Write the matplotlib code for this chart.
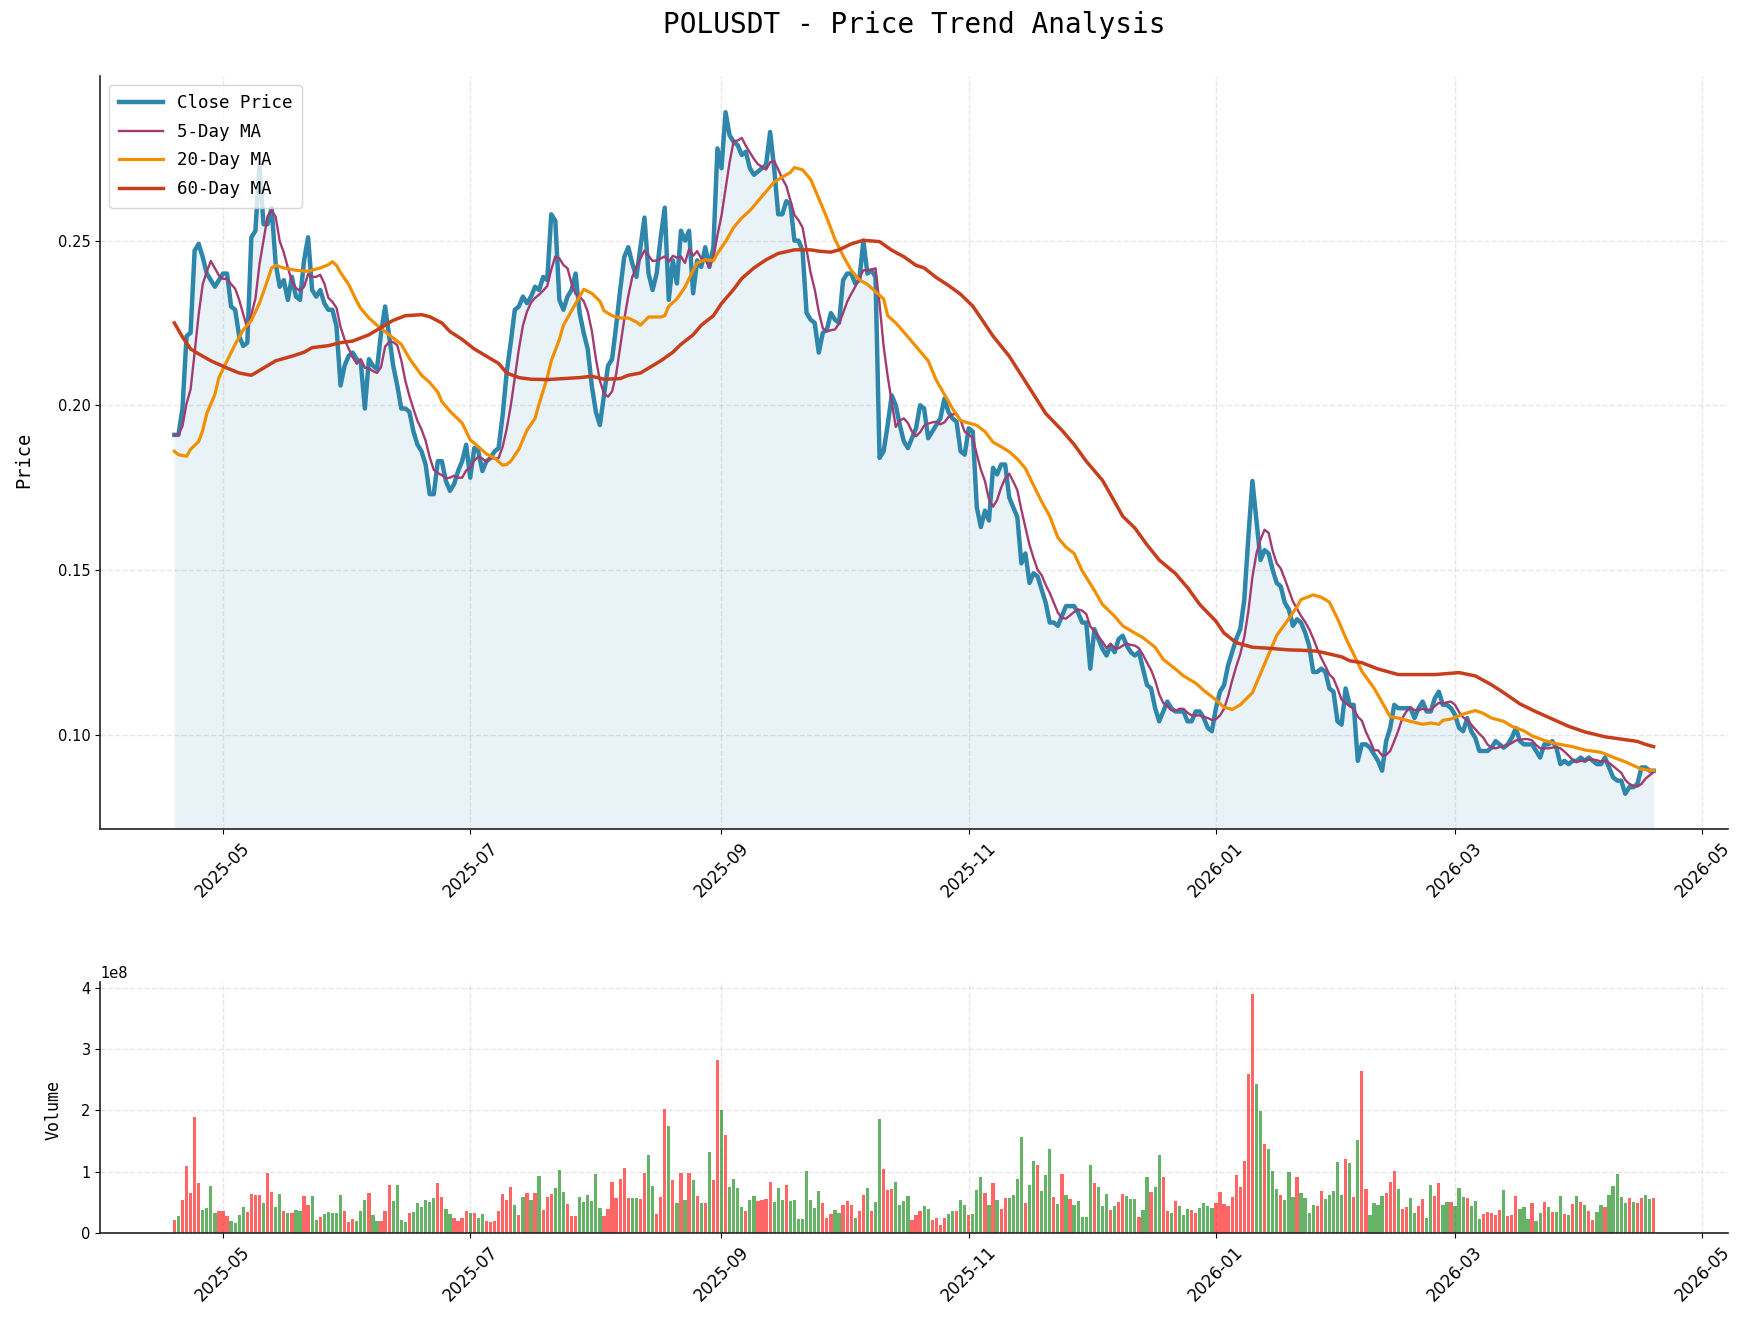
import matplotlib
matplotlib.use("Agg")
import matplotlib.pyplot as plt
import matplotlib.dates as mdates
import numpy as np
import pandas as pd

# ---------------- data ----------------
start_date = "2025-04-19"
ma_base_date = "2025-05-01"   # MA sample days are offsets from this date

close = [
    0.191, 0.191, 0.199, 0.221, 0.222, 0.247, 0.249, 0.245, 0.240, 0.238, 0.236, 0.238, 0.240,
    0.240, 0.230, 0.229, 0.221, 0.218, 0.219, 0.251, 0.253, 0.273, 0.255, 0.255, 0.260, 0.243, 0.236, 0.238, 0.232, 0.239, 0.233, 0.232, 0.244,
    0.251, 0.235, 0.233, 0.235, 0.231, 0.229, 0.229, 0.224, 0.206, 0.212, 0.215, 0.216, 0.214, 0.213, 0.199, 0.214, 0.212, 0.211, 0.222, 0.230,
    0.221, 0.212, 0.206, 0.199, 0.199, 0.198, 0.192, 0.188, 0.186, 0.182, 0.173, 0.173, 0.183, 0.183, 0.177, 0.174, 0.176, 0.180, 0.183, 0.188,
    0.178, 0.187, 0.186, 0.180, 0.183, 0.184, 0.186, 0.187, 0.197, 0.210, 0.219, 0.229, 0.230, 0.233, 0.231, 0.233, 0.236, 0.235, 0.239, 0.238,
    0.258, 0.256, 0.232, 0.229, 0.233, 0.235, 0.240, 0.228, 0.222, 0.217, 0.206, 0.198, 0.194, 0.203, 0.212, 0.214, 0.224, 0.235, 0.245, 0.248,
    0.243, 0.239, 0.248, 0.257, 0.240, 0.235, 0.240, 0.251, 0.260, 0.232, 0.244, 0.237, 0.253, 0.250, 0.253, 0.234, 0.244, 0.242, 0.248, 0.242,
    0.248, 0.278, 0.272, 0.289, 0.282, 0.280, 0.279, 0.276, 0.277, 0.272, 0.270, 0.271, 0.272, 0.273, 0.283, 0.272, 0.258, 0.258, 0.262, 0.261,
    0.250, 0.250, 0.247, 0.228, 0.226, 0.225, 0.216, 0.222, 0.223, 0.228, 0.226, 0.225, 0.238, 0.240, 0.240, 0.237, 0.238, 0.250, 0.240, 0.241,
    0.239, 0.184, 0.186, 0.194, 0.203, 0.200, 0.194, 0.189, 0.187, 0.190, 0.193, 0.200, 0.199, 0.190, 0.192, 0.194, 0.196, 0.202, 0.198, 0.196,
    0.195, 0.186, 0.185, 0.193, 0.192, 0.169, 0.163, 0.168, 0.165, 0.181, 0.179, 0.182, 0.182, 0.172, 0.169, 0.166, 0.152, 0.155, 0.146, 0.149,
    0.148, 0.144, 0.140, 0.134, 0.134, 0.133, 0.136, 0.139, 0.139, 0.139, 0.137, 0.134, 0.134, 0.120, 0.132, 0.129, 0.126, 0.124, 0.127, 0.125,
    0.129, 0.130, 0.127, 0.125, 0.124, 0.125, 0.120, 0.115, 0.114, 0.108, 0.104, 0.107, 0.110, 0.108, 0.107, 0.107, 0.107, 0.104, 0.104, 0.107,
    0.107, 0.105, 0.102, 0.101, 0.108, 0.113, 0.115, 0.121, 0.125, 0.129, 0.132, 0.141, 0.160, 0.177, 0.165, 0.153, 0.156, 0.155, 0.150, 0.146,
    0.145, 0.140, 0.138, 0.133, 0.135, 0.134, 0.131, 0.127, 0.119, 0.119, 0.120, 0.119, 0.114, 0.113, 0.104, 0.103, 0.114, 0.109, 0.109, 0.092,
    0.097, 0.097, 0.096, 0.094, 0.092, 0.089, 0.098, 0.102, 0.109, 0.108, 0.108, 0.108, 0.108, 0.105, 0.108, 0.110, 0.107, 0.107, 0.111, 0.113,
    0.109, 0.109, 0.108, 0.106, 0.102, 0.101, 0.105, 0.101, 0.099, 0.095, 0.095, 0.095, 0.096, 0.098, 0.097, 0.096, 0.097, 0.099, 0.102, 0.098,
    0.097, 0.097, 0.097, 0.095, 0.093, 0.097, 0.097, 0.098, 0.096, 0.091, 0.092, 0.091, 0.092, 0.092, 0.093, 0.092, 0.093, 0.092, 0.091, 0.091,
    0.093, 0.090, 0.087, 0.086, 0.086, 0.082, 0.084, 0.084, 0.085, 0.090, 0.090, 0.089, 0.089,
]

ma20_day = [
    -12, -11, -9, -8, -6, -5, -4, -2, -1, 1,
    3, 5, 7, 9, 11, 12, 13, 15, 18, 21,
    24, 26, 27, 28, 29, 31, 33, 34, 36, 38,
    41, 44, 46, 49, 51, 53, 54, 56, 59, 61,
    63, 65, 67, 69, 70, 71, 73, 75, 77, 78,
    80, 81, 83, 84, 86, 88, 89, 91, 93, 94,
    96, 98, 100, 102, 103, 105, 108, 109, 110, 112,
    114, 116, 117, 119, 121, 122, 124, 126, 128, 130,
    132, 134, 136, 138, 140, 141, 143, 145, 147, 149,
    151, 153, 155, 157, 159, 161, 163, 164, 166, 168,
    170, 172, 174, 176, 178, 180, 182, 184, 186, 188,
    190, 192, 194, 196, 198, 200, 202, 204, 206, 208,
    210, 212, 215, 217, 220, 222, 225, 227, 230, 232,
    235, 237, 240, 242, 245, 247, 249, 251, 254, 256,
    258, 260, 263, 265, 266, 269, 271, 273, 275, 277,
    279, 281, 284, 286, 288, 290, 293, 296, 298, 300,
    301, 303, 306, 309, 311, 313, 316, 318, 321, 323,
    326, 329, 333, 336, 340, 343, 346, 350, 352, 353,
]
ma20_val = [
    0.186, 0.185, 0.1845, 0.1866, 0.189, 0.1924, 0.1975, 0.2033, 0.2084, 0.2135,
    0.2185, 0.2229, 0.2258, 0.231, 0.238, 0.2417, 0.2425, 0.2417, 0.241, 0.2407,
    0.2417, 0.2427, 0.2436, 0.2425, 0.2403, 0.2367, 0.2316, 0.2294, 0.2265, 0.2243,
    0.2214, 0.2185, 0.2142, 0.2091, 0.2069, 0.204, 0.2011, 0.1982, 0.1946, 0.1895,
    0.1874, 0.1852, 0.184, 0.1818, 0.182, 0.183, 0.1866, 0.1924, 0.196, 0.2004,
    0.2084, 0.2135, 0.22, 0.2243, 0.2287, 0.233, 0.2352, 0.234, 0.2316, 0.2287,
    0.2272, 0.2265, 0.2265, 0.2253, 0.2243, 0.2268, 0.2268, 0.2272, 0.2301, 0.2323,
    0.2359, 0.241, 0.2432, 0.2442, 0.2439, 0.2461, 0.2497, 0.254, 0.2569, 0.2591,
    0.262, 0.2649, 0.2678, 0.2693, 0.2707, 0.2722, 0.2715, 0.2686, 0.2628, 0.2569,
    0.2504, 0.2454, 0.241, 0.2381, 0.2367, 0.2345, 0.2323, 0.2272, 0.225, 0.2222,
    0.2193, 0.2164, 0.2135, 0.2076, 0.2033, 0.199, 0.1953, 0.1946, 0.1939, 0.192,
    0.1888, 0.1874, 0.1859, 0.1837, 0.1808, 0.1757, 0.1707, 0.1663, 0.1598, 0.1569,
    0.155, 0.1497, 0.1438, 0.1395, 0.1359, 0.133, 0.1308, 0.1294, 0.1265, 0.1228,
    0.1199, 0.1178, 0.1156, 0.1134, 0.1105, 0.1083, 0.1076, 0.109, 0.1127, 0.1185,
    0.1243, 0.1301, 0.1352, 0.1388, 0.141, 0.1424, 0.1417, 0.1402, 0.1352, 0.1294,
    0.1243, 0.1192, 0.1141, 0.1098, 0.1054, 0.105, 0.104, 0.1031, 0.1035, 0.1031,
    0.1043, 0.1047, 0.1062, 0.1073, 0.1064, 0.105, 0.104, 0.1025, 0.1011, 0.0996,
    0.0982, 0.0972, 0.0963, 0.0953, 0.0946, 0.0931, 0.0917, 0.0895, 0.0891, 0.0891,
]

ma60_day = [
    -12, -10, -8, -6, -3, 1, 4, 7, 10, 13,
    17, 20, 22, 26, 29, 32, 36, 39, 42, 45,
    49, 51, 54, 56, 59, 62, 65, 68, 70, 73,
    76, 80, 84, 88, 91, 94, 98, 100, 103, 106,
    108, 111, 113, 116, 118, 121, 123, 126, 128, 131,
    134, 137, 141, 145, 147, 150, 152, 155, 158, 162,
    165, 168, 171, 173, 176, 179, 182, 185, 187, 190,
    194, 197, 200, 203, 207, 210, 213, 217, 219, 222,
    225, 228, 231, 235, 238, 241, 245, 247, 250, 254,
    258, 263, 266, 270, 276, 278, 281, 285, 290, 294,
    299, 305, 309, 313, 316, 320, 324, 328, 332, 336,
    341, 345, 349, 351, 353,
]
ma60_val = [
    0.225, 0.2207, 0.2171, 0.2156, 0.2135, 0.2113, 0.2098, 0.2091, 0.2113, 0.2135,
    0.2149, 0.2161, 0.2175, 0.2181, 0.2190, 0.2195, 0.2214, 0.2236, 0.2258, 0.2272,
    0.2275, 0.2269, 0.225, 0.2224, 0.2200, 0.2171, 0.2149, 0.2127, 0.2098, 0.2084,
    0.2079, 0.2078, 0.2081, 0.2084, 0.2088, 0.2079, 0.2081, 0.2091, 0.2098, 0.212,
    0.2135, 0.2161, 0.2185, 0.2214, 0.2243, 0.2272, 0.2309, 0.2352, 0.2385, 0.2417,
    0.2442, 0.2461, 0.2472, 0.2472, 0.2468, 0.2465, 0.2472, 0.249, 0.2501, 0.2497,
    0.2471, 0.2451, 0.2425, 0.2417, 0.2388, 0.2364, 0.2337, 0.2301, 0.2265, 0.221,
    0.2149, 0.2091, 0.2033, 0.1975, 0.1924, 0.1881, 0.183, 0.1772, 0.1729, 0.1663,
    0.1627, 0.1576, 0.153, 0.1489, 0.1446, 0.1395, 0.1344, 0.1308, 0.1279, 0.1265,
    0.1262, 0.1257, 0.1256, 0.1253, 0.1236, 0.1224, 0.1218, 0.1199, 0.1182, 0.1182,
    0.1182, 0.1188, 0.1178, 0.1151, 0.1127, 0.1093, 0.1069, 0.1047, 0.1025, 0.1008,
    0.0993, 0.0986, 0.0979, 0.097, 0.0963,
]

# daily volume, in units of 1e8
volume_e8 = [
    0.218, 0.283, 0.545, 1.084, 0.659, 1.886, 0.807, 0.381, 0.414, 0.774,
    0.332, 0.365, 0.365, 0.283, 0.202, 0.169, 0.300, 0.431, 0.349, 0.643,
    0.627, 0.627, 0.496, 0.970, 0.676, 0.431, 0.643, 0.365, 0.332, 0.332,
    0.381, 0.365, 0.610, 0.463, 0.610, 0.218, 0.267, 0.316, 0.349, 0.332,
    0.332, 0.627, 0.365, 0.185, 0.234, 0.202, 0.365, 0.545, 0.659, 0.300,
    0.202, 0.202, 0.365, 0.790, 0.529, 0.790, 0.218, 0.185, 0.332, 0.349,
    0.496, 0.431, 0.545, 0.512, 0.578, 0.807, 0.594, 0.398, 0.316, 0.251,
    0.202, 0.251, 0.365, 0.332, 0.332, 0.251, 0.316, 0.202, 0.185, 0.202,
    0.365, 0.643, 0.545, 0.757, 0.463, 0.300, 0.594, 0.659, 0.545, 0.659,
    0.921, 0.381, 0.594, 0.643, 0.741, 1.019, 0.676, 0.480, 0.283, 0.283,
    0.594, 0.512, 0.627, 0.529, 0.954, 0.414, 0.283, 0.398, 0.823, 0.578,
    0.872, 1.052, 0.578, 0.578, 0.578, 0.561, 0.970, 1.264, 0.774, 0.316,
    0.594, 2.016, 1.738,
    0.856, 0.496, 0.970, 0.545, 0.970, 0.856, 0.610, 0.496, 0.496,
    1.313, 0.856, 2.817, 2.000, 1.591, 0.757, 0.872, 0.741, 0.431, 0.365,
    0.545, 0.610, 0.529, 0.545, 0.561, 0.839, 0.512, 0.741, 0.545, 0.790,
    0.529, 0.545, 0.234, 0.234, 1.003, 0.545, 0.414, 0.692, 0.496, 0.251,
    0.316, 0.381, 0.332, 0.463, 0.529, 0.463, 0.251, 0.365, 0.627, 0.741,
    0.365, 0.512, 1.853, 1.035, 0.708, 0.725, 0.823, 0.463, 0.529, 0.610,
    0.218, 0.300, 0.365, 0.447, 0.398, 0.218, 0.251, 0.136, 0.251, 0.316,
    0.365, 0.365, 0.545, 0.463, 0.300, 0.316, 0.708, 0.905, 0.659, 0.463,
    0.807, 0.545, 0.398, 0.578, 0.578, 0.627, 0.872, 1.559, 0.496, 0.790,
    1.166, 1.101, 0.692, 0.937, 1.362, 0.594, 0.480, 0.954, 0.627, 0.561,
    0.463, 0.529, 0.267, 0.267, 1.101, 0.807, 0.757, 0.447, 0.643, 0.381,
    0.447, 0.512, 0.643, 0.610, 0.561, 0.561, 0.267, 0.381, 0.905, 0.676,
    0.757, 1.264,
    0.905, 0.365, 0.332, 0.529, 0.447, 0.300, 0.398, 0.381, 0.332, 0.414,
    0.496, 0.447, 0.414, 0.496, 0.676, 0.480, 0.447, 0.594, 0.937, 0.757,
    1.166, 2.589, 3.896, 2.425, 1.984, 1.444, 1.362, 1.003, 0.725, 0.627,
    0.545, 0.986, 0.594, 0.905, 0.659, 0.578, 0.332, 0.463, 0.447, 0.692,
    0.561, 0.627, 0.692, 1.150, 0.627, 1.199, 1.134, 0.594, 1.510, 2.638,
    0.725, 0.300, 0.496, 0.463, 0.610, 0.659, 0.839, 1.003, 0.725, 0.398,
    0.431, 0.578, 0.332, 0.447, 0.561, 0.251, 0.790, 0.610, 0.807, 0.463,
    0.512, 0.512, 0.447, 0.741, 0.594, 0.578, 0.447, 0.529, 0.234, 0.316,
    0.349, 0.332, 0.300, 0.381, 0.708, 0.283, 0.300, 0.610, 0.398, 0.431,
    0.234, 0.496, 0.202, 0.332, 0.512, 0.431, 0.349, 0.349, 0.610, 0.316,
    0.300, 0.480, 0.610, 0.512, 0.463, 0.365, 0.218, 0.349, 0.463, 0.431,
    0.627, 0.774, 0.954, 0.594, 0.496, 0.578, 0.512, 0.496, 0.578, 0.627,
    0.561, 0.578,
]

# day direction: R = up (red), G = down (green)
vol_direction = (
    "RGRRRRRGGG" "GRRRGGGGRR" "RRGRRGGRGR" "GGRRGGRGGG" "GGRRRGGGRG" "GRRRGGGGRG"
    "GGGGGRRGGR" "RRRGRGGRRR" "RRRRGRGRGR" "GRRRGGGRRR" "GGGGGGRRRR" "RRRGGRRGGR" "RRG"
    "RGRGRGRGR" "GRRGRGGGGR" "GGRRRRGGGR" "GGGGGGGGRR" "RGGRRRGRRG" "RGGRRRGGGG"
    "RRRGGRRRRG" "GRGGRGGGRG" "RGRRGGGGRG" "GRGGGRGRGR" "GGGGGRGGGR" "GRRGGGRGGR" "GG"
    "RRGRGGGRRG" "GGGRRRRRRR" "RRRGGRGGGR" "GGGRGGGGRR" "GGGGGRGRGR" "RGGGGRRRGR"
    "RGGRRGGRRG" "GRGGGRGGGR" "RRRRGRRRGG" "GRGGRGRGGR" "GRGRGRRGGR" "GGGGGRGRRG" "GR"
)

title_text = "POLUSDT - Price Trend Analysis"
legend_labels = ["Close Price", "5-Day MA", "20-Day MA", "60-Day MA"]

# ---------------- derived ----------------
dates = pd.date_range(start_date, periods=len(close), freq="D")
close_s = pd.Series(close, index=dates)
ma5 = close_s.rolling(5, min_periods=1).mean()
base = pd.Timestamp(ma_base_date)
ma20_dates = base + pd.to_timedelta(ma20_day, unit="D")
ma60_dates = base + pd.to_timedelta(ma60_day, unit="D")
vol = np.array(volume_e8) * 1e8
bar_colors = ["red" if c == "R" else "green" for c in vol_direction]

# ---------------- styling ----------------
C_CLOSE = "#2E86AB"
C_MA5 = "#A23B72"
C_MA20 = "#F18F01"
C_MA60 = "#C73E1D"
MONO = "DejaVu Sans Mono"
SANS = "DejaVu Sans"

W, H = 1750, 1327
fig = plt.figure(figsize=(W / 100, H / 100), dpi=100)
left, right = 100.4, 1727.6
ax1 = fig.add_axes([left / W, 1 - 829 / H, (right - left) / W, (829 - 76) / H])
ax2 = fig.add_axes([left / W, 1 - 1233 / H, (right - left) / W, (1233 - 982) / H])

y_lo, y_hi = 0.0713, 0.3000
ax1.fill_between(dates, close, y_lo, color=C_CLOSE, alpha=0.1, linewidth=0)
ax1.plot(dates, close, color=C_CLOSE, linewidth=3.2, label=legend_labels[0], zorder=3)
ax1.plot(dates, ma5.values, color=C_MA5, linewidth=1.7, label=legend_labels[1], zorder=4)
ax1.plot(ma20_dates, ma20_val, color=C_MA20, linewidth=2.3, label=legend_labels[2], zorder=4)
ax1.plot(ma60_dates, ma60_val, color=C_MA60, linewidth=2.5, label=legend_labels[3], zorder=4)
ax1.set_ylim(y_lo, y_hi)

ax2.bar(dates, vol, width=0.8, color=bar_colors, alpha=0.6)
ax2.set_ylim(0, 4.09e8)

x0 = mdates.date2num(dates[0]) - 18.25
x1 = mdates.date2num(dates[-1]) + 18.25
for ax in (ax1, ax2):
    ax.set_xlim(x0, x1)
    ax.xaxis.set_major_locator(mdates.MonthLocator(bymonth=[1, 3, 5, 7, 9, 11]))
    ax.xaxis.set_major_formatter(mdates.DateFormatter("%Y-%m"))
    ax.grid(True, linestyle="--", alpha=0.3, linewidth=1.0)
    ax.set_axisbelow(True)
    for s in ("top", "right"):
        ax.spines[s].set_visible(False)
    for s in ("left", "bottom"):
        ax.spines[s].set_linewidth(1.2)
        ax.spines[s].set_color("#222222")
    for lbl in ax.get_xticklabels():
        lbl.set_rotation(45)
        lbl.set_fontsize(12)
        lbl.set_family(SANS)
    ax.tick_params(axis="y", labelsize=10.5)

ax1.set_yticks([0.10, 0.15, 0.20, 0.25])
ax1.set_yticklabels(["0.10", "0.15", "0.20", "0.25"])
ax2.yaxis.get_offset_text().set_fontsize(10.5)

ax1.set_ylabel("Price", fontsize=13.5, family=MONO)
ax1.yaxis.set_label_coords(-0.0415, 0.49)
ax2.set_ylabel("Volume", fontsize=12, family=MONO)
ax2.yaxis.set_label_coords(-0.023, 0.49)

leg = ax1.legend(loc="upper left", prop={"family": MONO, "size": 12.6},
                 handlelength=2.5, labelspacing=0.6, borderpad=0.55,
                 framealpha=0.8, edgecolor="#cccccc")

fig.text(914 / W, 1 - 25 / H, title_text, ha="center", va="center",
         fontsize=20, family=MONO)

fig.savefig("out.png", dpi=100)
